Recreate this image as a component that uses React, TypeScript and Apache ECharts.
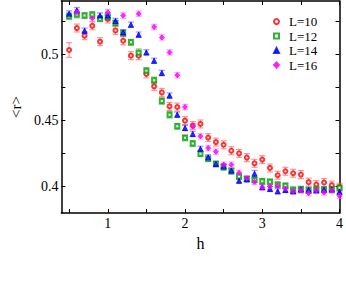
import React, { useEffect, useRef } from "react";
import * as echarts from "echarts";

const H = [0.5, 0.6, 0.7, 0.8, 0.9, 1.0, 1.1, 1.2, 1.3, 1.4, 1.5, 1.6, 1.7, 1.8, 1.9, 2.0, 2.1, 2.2, 2.3, 2.4, 2.5, 2.6, 2.7, 2.8, 2.9, 3.0, 3.1, 3.2, 3.3, 3.4, 3.5, 3.6, 3.7, 3.8, 3.9, 4.0];

const L10 = [0.503, 0.5196, 0.5138, 0.5213, 0.5093, 0.5264, 0.5178, 0.51, 0.4987, 0.4987, 0.485, 0.4756, 0.471, 0.4605, 0.46, 0.4497, 0.446, 0.4472, 0.4369, 0.4335, 0.4315, 0.427, 0.425, 0.4218, 0.4175, 0.4203, 0.414, 0.4085, 0.4115, 0.41, 0.409, 0.4033, 0.4015, 0.403, 0.401, 0.3995];
const L12 = [0.5285, 0.5298, 0.529, 0.5296, 0.5266, 0.528, 0.5234, 0.5158, 0.5088, 0.501, 0.4873, 0.4801, 0.4645, 0.4542, 0.4454, 0.4367, 0.4325, 0.4248, 0.421, 0.417, 0.4145, 0.4115, 0.4075, 0.4057, 0.405, 0.4039, 0.4035, 0.4014, 0.4005, 0.3975, 0.398, 0.397, 0.398, 0.3975, 0.398, 0.399];
const L14 = [0.5304, 0.5329, 0.5176, null, 0.529, 0.529, 0.5249, 0.5163, 0.5221, 0.5146, 0.5012, 0.4949, 0.4857, 0.4686, 0.4542, 0.4442, 0.4397, 0.4284, 0.422, 0.417, 0.4152, 0.412, 0.4044, 0.4055, 0.4097, 0.3995, 0.3982, 0.3964, 0.3974, 0.3964, 0.3977, 0.3975, 0.3971, 0.3975, 0.3977, 0.396];
const L16 = [null, 0.5315, null, 0.527, null, 0.5315, null, 0.529, null, 0.5304, null, 0.5204, 0.5125, 0.5012, 0.484, 0.46, 0.4454, 0.4379, 0.429, 0.4263, 0.4165, 0.4165, 0.4103, 0.4062, 0.4035, 0.3995, 0.4, 0.4005, 0.3985, 0.3965, 0.397, 0.395, 0.397, 0.3955, 0.397, 0.393];

const E10 = [0.0055, 0.003, 0.003, 0.003, 0.003, 0.003, 0.003, 0.003, 0.003, 0.003, 0.003, 0.003, 0.003, 0.003, 0.003, 0.003, 0.003, 0.003, 0.003, 0.003, 0.003, 0.003, 0.003, 0.003, 0.003, 0.003, 0.003, 0.003, 0.003, 0.003, 0.003, 0.003, 0.003, 0.003, 0.003, 0.003];
const E12 = [0.0025, 0.0025, 0.0022, 0.0025, 0.0022, 0.0025, 0.0022, 0.0025, 0.0022, 0.0028, 0.0025, 0.0025, 0.0025, 0.0025, 0.0022, 0.0022, 0.0022, 0.0022, 0.0022, 0.0022, 0.0022, 0.0022, 0.0022, 0.0022, 0.0022, 0.0022, 0.0022, 0.0022, 0.0022, 0.0022, 0.0022, 0.0022, 0.0022, 0.0022, 0.0022, 0.0022];
const E14 = [0.0022, 0.0022, 0.002, 0.002, 0.002, 0.002, 0.002, 0.002, 0.002, 0.002, 0.002, 0.002, 0.002, 0.002, 0.002, 0.002, 0.002, 0.002, 0.002, 0.002, 0.002, 0.002, 0.002, 0.002, 0.0025, 0.002, 0.002, 0.002, 0.002, 0.002, 0.002, 0.002, 0.002, 0.002, 0.002, 0.002];
const E16 = [0.002, 0.0022, 0.002, 0.0022, 0.002, 0.0022, 0.002, 0.0022, 0.002, 0.002, 0.002, 0.002, 0.002, 0.002, 0.002, 0.002, 0.002, 0.002, 0.002, 0.002, 0.002, 0.002, 0.002, 0.002, 0.002, 0.002, 0.002, 0.002, 0.002, 0.002, 0.002, 0.002, 0.002, 0.002, 0.002, 0.002];

const X_TICKS = [0.5, 1, 1.5, 2, 2.5, 3, 3.5, 4];
const X_LABELS = [1, 2, 3, 4];
const Y_TICKS = [0.4, 0.425, 0.45, 0.475, 0.5, 0.525];
const Y_LABELS = [0.4, 0.45, 0.5];

const SERIES = [
  { name: "L=10", values: L10, errors: E10, color: "#ff0000", bar: "rgba(255,80,80,0.6)", symbol: "emptyCircle", size: 4 },
  { name: "L=12", values: L12, errors: E12, color: "#00a000", bar: "rgba(50,160,50,0.6)", symbol: "emptyRect", size: 4 },
  { name: "L=14", values: L14, errors: E14, color: "#0000ff", bar: "rgba(80,80,255,0.6)", symbol: "triangle", size: 5 },
  { name: "L=16", values: L16, errors: E16, color: "#ff00ff", bar: "rgba(255,100,255,0.6)", symbol: "diamond", size: 5 },
];

const FONT = "Liberation Serif";

export default function App() {
  const ref = useRef<HTMLDivElement>(null);
  useEffect(() => {
    if (!ref.current) return;
    const chart = echarts.init(ref.current, null, { renderer: "svg" });
    const series: any[] = [];
    SERIES.forEach((s) => {
      const pts: any[] = [];
      H.forEach((h, i) => {
        const v = s.values[i];
        if (v !== null && v !== undefined) pts.push([h, v, s.errors[i]]);
      });
      series.push({
        type: "custom",
        name: s.name + " err",
        xAxisIndex: 0,
        yAxisIndex: 0,
        silent: true,
        renderItem: (params: any, api: any) => {
          const x = api.value(0);
          const y = api.value(1);
          const e = api.value(2);
          const top = api.coord([x, y + e]);
          const bot = api.coord([x, y - e]);
          const w = 3;
          const st = { stroke: s.bar, lineWidth: 1.2 };
          return {
            type: "group",
            children: [
              { type: "line", shape: { x1: top[0], y1: top[1], x2: bot[0], y2: bot[1] }, style: st },
              { type: "line", shape: { x1: top[0] - w, y1: top[1], x2: top[0] + w, y2: top[1] }, style: st },
              { type: "line", shape: { x1: bot[0] - w, y1: bot[1], x2: bot[0] + w, y2: bot[1] }, style: st },
            ],
          };
        },
        data: pts,
        z: 1,
      });
      series.push({
        type: "scatter",
        name: s.name,
        symbol: s.symbol,
        symbolSize: s.size,
        itemStyle: { color: s.color, borderColor: s.color, borderWidth: 1 },
        data: pts.map((p) => [p[0], p[1]]),
        z: 2,
      });
    });

    const legends = SERIES.map((s, i) => ({
      data: [s.name],
      orient: "vertical",
      left: 273,
      top: 15 + i * 14.5,
      padding: 0,
      itemWidth: 5,
      itemHeight: 5,
      itemGap: 0,
      textStyle: { fontFamily: FONT, fontSize: 13, color: "#000", padding: [0, 0, 0, 5] },
    }));

    const axisLine = { show: true, lineStyle: { color: "#000", width: 1.5 } };
    chart.setOption({
      animation: false,
      grid: { left: 39, right: 4, top: 1, bottom: 78 },
      legend: legends,
      xAxis: [
        {
          type: "value",
          min: 0.4,
          max: 4,
          position: "bottom",
          name: "h",
          nameLocation: "middle",
          nameGap: 22,
          nameTextStyle: { fontFamily: FONT, fontSize: 16, color: "#000" },
          axisLine,
          axisTick: { show: true, inside: true, length: 4, customValues: X_TICKS, lineStyle: { color: "#000", width: 1 } },
          axisLabel: { customValues: X_LABELS, fontFamily: FONT, fontSize: 14, color: "#000", margin: 3 },
          splitLine: { show: false },
        },
        {
          type: "value",
          min: 0.4,
          max: 4,
          position: "top",
          axisLine,
          axisTick: { show: true, inside: true, length: 4, customValues: X_TICKS, lineStyle: { color: "#000", width: 1 } },
          axisLabel: { show: false },
          splitLine: { show: false },
        },
      ],
      yAxis: [
        {
          type: "value",
          min: 0.38,
          max: 0.54,
          position: "left",
          name: "<r>",
          nameLocation: "middle",
          nameGap: 25,
          nameTextStyle: { fontFamily: FONT, fontSize: 15, color: "#000" },
          axisLine,
          axisTick: { show: true, inside: true, length: 4, customValues: Y_TICKS, lineStyle: { color: "#000", width: 1 } },
          axisLabel: { customValues: Y_LABELS, fontFamily: FONT, fontSize: 14, color: "#000", margin: 3 },
          splitLine: { show: false },
        },
        {
          type: "value",
          min: 0.38,
          max: 0.54,
          position: "right",
          axisLine,
          axisTick: { show: true, inside: true, length: 4, customValues: Y_TICKS, lineStyle: { color: "#000", width: 1 } },
          axisLabel: { show: false },
          splitLine: { show: false },
        },
      ],
      series,
    });
    return () => chart.dispose();
  }, []);
  return <div ref={ref} style={{ position: "fixed", left: 0, top: 0, width: 346, height: 291, background: "#fff" }} />;
}
